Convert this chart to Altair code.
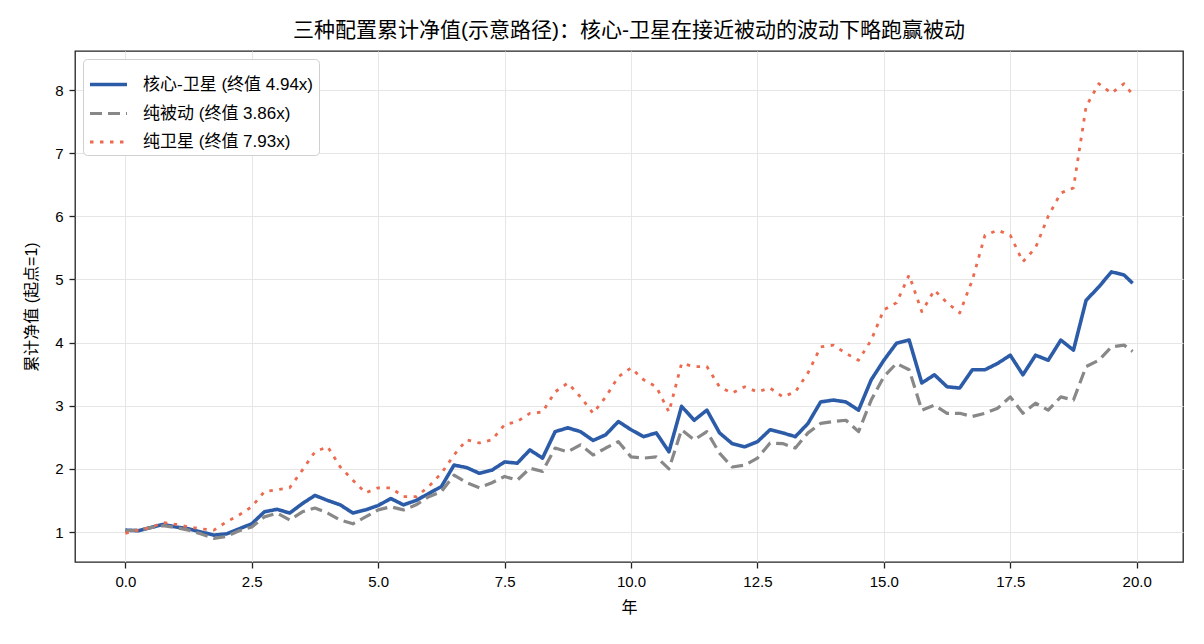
import altair as alt
import pandas as pd

years = [i * 0.25 for i in range(80)] + [19.92]

core = [1.03, 1.02, 1.07, 1.12, 1.08, 1.05, 1.00, 0.95, 0.97, 1.05,
        1.13, 1.32, 1.36, 1.30, 1.45, 1.58, 1.50, 1.43, 1.30, 1.35,
        1.42, 1.53, 1.43, 1.50, 1.61, 1.72, 2.06, 2.02, 1.93, 1.98,
        2.11, 2.09, 2.30, 2.17, 2.59, 2.65, 2.59, 2.45, 2.54, 2.75,
        2.62, 2.51, 2.57, 2.27, 2.99, 2.77, 2.93, 2.57, 2.40, 2.35,
        2.43, 2.62, 2.57, 2.51, 2.72, 3.06, 3.09, 3.06, 2.93, 3.41,
        3.72, 3.99, 4.04, 3.36, 3.49, 3.30, 3.28, 3.57, 3.57, 3.67,
        3.80, 3.49, 3.80, 3.72, 4.04, 3.88, 4.67, 4.88, 5.12, 5.07, 4.94]

passive = [1.02, 1.03, 1.07, 1.10, 1.07, 1.03, 0.97, 0.90, 0.93, 1.02,
           1.08, 1.24, 1.30, 1.19, 1.32, 1.38, 1.30, 1.19, 1.13, 1.24,
           1.35, 1.40, 1.35, 1.43, 1.56, 1.64, 1.90, 1.78, 1.70, 1.78,
           1.88, 1.82, 2.01, 1.96, 2.33, 2.27, 2.38, 2.22, 2.33, 2.43,
           2.19, 2.17, 2.19, 2.00, 2.62, 2.46, 2.59, 2.25, 2.03, 2.06,
           2.17, 2.41, 2.40, 2.33, 2.57, 2.72, 2.75, 2.77, 2.59, 3.09,
           3.46, 3.67, 3.57, 2.93, 3.01, 2.88, 2.88, 2.83, 2.88, 2.96,
           3.14, 2.88, 3.04, 2.93, 3.14, 3.09, 3.62, 3.72, 3.93, 3.96, 3.86]

satellite = [0.98, 1.03, 1.07, 1.15, 1.12, 1.08, 1.05, 1.03, 1.16, 1.27,
             1.40, 1.64, 1.67, 1.70, 1.98, 2.27, 2.35, 2.03, 1.82, 1.62,
             1.70, 1.70, 1.56, 1.56, 1.72, 1.93, 2.22, 2.46, 2.41, 2.46,
             2.70, 2.75, 2.88, 2.90, 3.22, 3.36, 3.14, 2.88, 3.14, 3.46,
             3.60, 3.41, 3.30, 2.90, 3.67, 3.62, 3.62, 3.30, 3.20, 3.30,
             3.22, 3.28, 3.14, 3.22, 3.52, 3.93, 3.96, 3.83, 3.72, 4.04,
             4.52, 4.63, 5.07, 4.49, 4.83, 4.63, 4.47, 4.99, 5.70, 5.78,
             5.70, 5.28, 5.50, 6.00, 6.37, 6.45, 7.74, 8.10, 7.95, 8.10, 7.93]

names = ["核心-卫星 (终值 4.94x)", "纯被动 (终值 3.86x)", "纯卫星 (终值 7.93x)"]
colors = ["#2c5ca8", "#888888", "#ec6a4f"]
dashes = [[1, 0], [12, 6], [3.5, 6.5]]
widths = [3.6, 2.8, 3.0]

rows = []
for name, series in zip(names, [core, passive, satellite]):
    for y, v in zip(years, series):
        rows.append({"year": y, "value": v, "series": name})
df = pd.DataFrame(rows)

FONT = "Liberation Sans, Arial, Noto Sans CJK SC"

chart = alt.Chart(df).mark_line(strokeCap="butt", strokeJoin="round").encode(
    x=alt.X("year:Q", title="年",
            scale=alt.Scale(domain=[-0.996, 20.916], nice=False, zero=False),
            axis=alt.Axis(values=[0, 2.5, 5, 7.5, 10, 12.5, 15, 17.5, 20], format=".1f")),
    y=alt.Y("value:Q", title="累计净值 (起点=1)",
            scale=alt.Scale(domain=[0.525, 8.618], nice=False, zero=False),
            axis=alt.Axis(values=[1, 2, 3, 4, 5, 6, 7, 8], format="d")),
    color=alt.Color("series:N", sort=names,
                    scale=alt.Scale(domain=names, range=colors),
                    legend=alt.Legend(title=None, orient="top-left", offset=8,
                                      symbolType="stroke", symbolSize=1369,
                                      symbolStrokeWidth=3.2,
                                      labelFontSize=17, labelFont=FONT,
                                      labelOffset=14,
                                      rowPadding=-2.3, padding=5,
                                      fillColor="white", strokeColor="#d0d0d0",
                                      cornerRadius=4, labelLimit=400)),
    strokeDash=alt.StrokeDash("series:N", sort=names,
                              scale=alt.Scale(domain=names, range=dashes),
                              legend=None),
    strokeWidth=alt.StrokeWidth("series:N", sort=names,
                                scale=alt.Scale(domain=names, range=widths),
                                legend=None),
    order=alt.Order("year:Q"),
).properties(
    width=1108, height=511,
    title=alt.TitleParams("三种配置累计净值(示意路径)：核心-卫星在接近被动的波动下略跑赢被动",
                          fontSize=21, font=FONT, fontWeight="normal",
                          anchor="middle", offset=10, color="black"),
    autosize=alt.AutoSizeParams(type="none"),
    padding={"left": 75, "top": 51, "right": 21, "bottom": 82},
).configure_view(
    stroke="#222222", strokeWidth=1.3
).configure_axis(
    labelFont=FONT, titleFont=FONT, labelFontSize=15, titleFontSize=16,
    titleFontWeight="normal", labelColor="black", titleColor="black",
    gridColor="#e6e6e6", gridWidth=1, tickColor="#222222", tickSize=6,
    tickWidth=1.3, domain=False, labelPadding=6
).configure_axisX(titlePadding=10).configure_axisY(titlePadding=15)

chart.save("out.html", embed_options={"renderer": "svg", "actions": False})
